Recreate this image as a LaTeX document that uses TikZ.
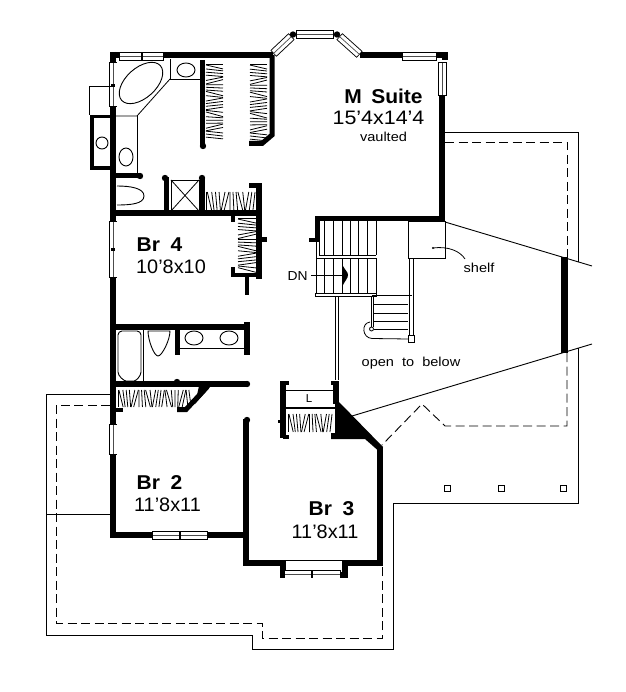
\documentclass[tikz,border=0pt]{standalone}
\usepackage{fontspec}
\setmainfont{Liberation Sans}
\tikzset{
  wall/.style={line width=6pt,line cap=butt,line join=miter},
  swall/.style={line width=3.6pt,line cap=butt,line join=miter},
  thin/.style={line width=0.8pt},
  roofline/.style={line width=0.9pt,line join=miter},
  eave/.style={line width=0.9pt,dash pattern=on 9pt off 4.5pt},
  fixture/.style={line width=0.9pt},
  hatchline/.style={line width=0.8pt},
  bigname/.style={font=\fontsize{20}{20}\selectfont\bfseries,inner sep=0pt,transform shape,xscale=1.05},
  dims/.style={font=\fontsize{19.5}{20}\selectfont,inner sep=0pt,transform shape,xscale=1.1},
  dimsn/.style={font=\fontsize{19.5}{20}\selectfont,inner sep=0pt,transform shape,xscale=1.02},
  small/.style={font=\fontsize{13}{14}\selectfont,inner sep=0pt,transform shape,xscale=1.12},
}
\newcommand{\winline}[2]{%
  \draw[line width=8.8pt,shorten >=-0.8pt,shorten <=-0.8pt] #1 -- #2;
  \draw[white,line width=7pt] #1 -- #2;
  \draw[line width=0.7pt,black!70] #1 -- #2;}
\newcommand{\knob}[2]{\fill (#1,#2) circle (3.2pt);}
\newcommand{\hatchV}[5]{% x1 x2 y1 y2 n : rods across, closet runs vertically
  \foreach \i in {0,...,#5}{
    \pgfmathsetmacro{\yy}{#3+\i*(#4-#3)/#5}
    \pgfmathsetmacro{\dd}{1.6*sin(\i*47)+0.9*sin(\i*113)}
    \draw[hatchline] (#1,\yy-\dd) -- (#2,\yy+\dd);
  }}
\newcommand{\hatchH}[5]{% x1 x2 y1 y2 n : rods across, closet runs horizontally
  \foreach \i in {0,...,#5}{
    \pgfmathsetmacro{\xx}{#1+\i*(#2-#1)/#5}
    \pgfmathsetmacro{\dd}{1.8*sin(\i*47)+0.9*sin(\i*113)}
    \draw[hatchline] (\xx-\dd,#3) -- (\xx+\dd,#4);
  }}
\begin{document}
\begin{tikzpicture}[x=1pt,y=-1pt]
\useasboundingbox (0,0) rectangle (625,692);
\fill[white] (0,0) rectangle (625,692);

% ---- roof outline
\draw[roofline] (445,132) -- (578,132) -- (578,262);
\draw[roofline] (578,348) -- (578,503) -- (393,503) -- (393,649) -- (252,649) -- (252,635) -- (46,635) -- (46,394) -- (110,394);
\draw[roofline] (46,514) -- (110,514);
\draw[roofline] (445,222) -- (592,266);
\draw[roofline] (592,344) -- (352,416);
% ---- eave dashes
\draw[eave] (445,142) -- (567,142) -- (567,257);
\draw[eave] (567,353) -- (567,426) -- (445,426) -- (422,404) -- (382,445);
\draw[eave] (110,405) -- (56,405) -- (56,623) -- (262,623) -- (262,638) -- (382,638) -- (382,565);
\fill (561,257) rectangle (568,353);
% ---- posts
\foreach \px in {447,501,563}{\draw[line width=1pt] (\px-3,485) rectangle (\px+3,491);}

% ---- exterior walls
\draw[wall] (110,55) -- (273,55);
\draw[wall] (360,55) -- (445,55) -- (445,60);
\draw[wall] (442,95) -- (442,222);
\draw[wall,line width=5pt] (315,219) -- (444,219);
\draw[wall] (113,52) -- (113,538);
\draw[wall] (110,535) -- (246,535);
\draw[wall] (246,419) -- (246,566);
\draw[wall] (243,563) -- (283,563) -- (283,574.5) -- (345,574.5) -- (345,563) -- (383,563);
\draw[wall] (380,566) -- (380,447);
\draw[thin] (283,560) -- (345,560);
\fill (335,402) -- (339,402) -- (383,447) -- (377.5,450) -- (365,439) -- (331,439) -- (331,433) -- (335,433) -- cycle;
\knob{247}{420}

% ---- windows
\winline{(120,56.5)}{(163,56.5)}
\fill (141,52) rectangle (143,61);
\winline{(113,63)}{(113,106)}
\fill (111,84) rectangle (115,87);
\winline{(274,53)}{(291,37)}
\winline{(297,34.5)}{(333,34.5)}
\winline{(340,37)}{(359,54)}
\knob{293}{34.5}
\knob{337}{34.5}
\winline{(403,56.5)}{(436,56.5)}
\winline{(442.5,63)}{(442.5,95)}
\winline{(113,222)}{(113,277)}
\fill (111,248) rectangle (115,251);
\winline{(113,425)}{(113,454)}
\winline{(153,535.5)}{(207,535.5)}
\fill (179,532) rectangle (181,539);
\winline{(285,574)}{(340,574)}
\fill (311,570) rectangle (313,578);

% ---- master bath
\draw[thin] (170,59) -- (170,79) -- (200,79);
\draw[thin] (170,79) -- (137,116) -- (116,116);
\draw[thin] (137,116) -- (137,175);
\draw[fixture] (186,70) ellipse [x radius=9pt,y radius=7pt];
\draw[fixture,rotate around={42:(141,83)}] (141,83) ellipse [x radius=26pt,y radius=15pt];
\draw[thin] (113,86) -- (89,86) -- (89,115);
\draw[swall] (113,116.5) -- (92,116.5) -- (92,168) -- (113,168);
\draw[fixture] (102,143) circle (6pt);
\draw[fixture] (126,157) ellipse [x radius=7pt,y radius=9pt];
\draw[wall,line width=5pt] (113,176) -- (140,176);
\knob{140}{176}
\draw[fixture] (117,186) .. controls (130,186) and (144,188) .. (144,196) .. controls (144,204) and (130,205) .. (117,205);
% shower
\draw[wall,line width=5pt] (166,177) -- (166,213);
\knob{165}{178}
\draw[wall,line width=5pt] (202,179) -- (202,213);
\knob{202}{178}
\draw[thin] (171,180) rectangle (199,211);
\draw[thin] (171,180) -- (199,211);
\draw[thin] (199,180) -- (171,211);
\hatchH{206}{254}{192}{210}{14}
\draw[wall,line width=5pt] (249,186) -- (262,186);
\draw[wall] (259,186) -- (259,279);
\fill (259,237.5) rectangle (267,242.5);

% ---- walk-in closet
\draw[wall,line width=5pt] (202,60) -- (202,146);
\knob{203}{146}
\hatchV{206}{223}{64}{138}{25}
\hatchV{250}{267}{64}{140}{25}
\draw[wall,line width=5pt] (272,55) -- (272,135) -- (262,143.5) -- (249,143.5);

% ---- Br 4 walls
\draw[wall] (113,213) -- (259,213);
\hatchV{238}{256}{218}{270}{17}
\draw[wall,line width=4.5pt] (233,213) -- (233,222);
\draw[wall,line width=4.5pt] (233,267) -- (233,275) -- (259,275);
\draw[wall,line width=4.5pt] (247,275) -- (247,295);

% ---- second bath
\draw[wall] (113,327) -- (247,327);
\draw[wall] (246.5,322) -- (246.5,355);
\draw[wall,line width=5pt] (177,327) -- (177,355);
\draw[thin] (177,348) -- (246,348);
\draw[fixture] (194,338) ellipse [x radius=9pt,y radius=7pt];
\draw[fixture] (229,338) ellipse [x radius=9pt,y radius=7pt];
\draw[fixture] (148,331) .. controls (148,340) and (154,356) .. (158,356) .. controls (162,356) and (170,340) .. (170,331) -- cycle;
\draw[fixture,rounded corners=4pt] (118,331) -- (118,368) .. controls (118,376) and (124,381) .. (130,381) .. controls (136,381) and (141,376) .. (141,368) -- (141,331) -- cycle;
\draw[thin] (143,327) -- (143,383);
\draw[wall] (113,384) -- (247,384);
\knob{247}{384}
\knob{177}{382}

% ---- linen / closet between bath and Br 2
\hatchH{118}{190}{390}{407}{24}
\draw[wall,line width=4.5pt] (113,410) -- (123,410);
\draw[wall,line width=5pt] (207,387) -- (186,409.5) -- (177,409.5);
\fill (199,386) -- (211,386) -- (195,404) -- cycle;

% ---- closet Br 3
\draw[wall] (283,381) -- (283,438);
\draw[wall,line width=4.5pt] (283,383) -- (289,383);
\draw[wall,line width=4.5pt] (283,437) -- (289,437);
\fill (278,419.5) rectangle (283,422.5);
\draw[wall] (336,381) -- (336,404);
\draw[wall,line width=4.5pt] (331,383) -- (336,383);
\draw[line width=1pt] (285,390) -- (334,390);
\draw[line width=2.4pt] (285,408) -- (335,408);
\hatchH{288}{331}{414}{432}{14}

% ---- stairs
\draw[wall,line width=5pt] (317,217) -- (317,242);
\draw[wall,line width=4.5pt] (309,240) -- (317,240);
\draw[thin] (316,242) -- (316,294);
\draw[thin] (319,242) -- (319,255);
\draw[thin] (319,255) -- (376,255);
\draw[thin] (316,258) -- (376,258);
\foreach \tx in {324,333,342,350,358,367,376}{
  \draw[thin] (\tx,221) -- (\tx,255);
  \draw[thin] (\tx,258) -- (\tx,293);
}
\draw[thin] (315,293) rectangle (376,296);
\draw[thin] (335.5,296) -- (335.5,380);
\draw[thin] (338,296) -- (338,380);
\draw[thin] (408,221) rectangle (445,258);
\draw[thin] (409,258) -- (409,335);
\draw[thin] (413,258) -- (413,335);
\draw[thin] (371,296) -- (371,327);
\draw[thin] (373.5,296) -- (373.5,327);
\draw[thin] (372,295.5) -- (412,295.5);
\foreach \ty in {304,313,321,329}{\draw[thin] (374,\ty) -- (408,\ty);}
\draw[line width=1pt] (408,335) rectangle (414,342);
\draw[thin] (371.5,329) circle (2pt);
\draw[thin] (370,322) .. controls (361,323) and (362,338) .. (372,338.5) -- (408,339);
% DN arrow
\coordinate (dnstart) at (311,275);
\coordinate (dntip) at (348,275);
\draw[thin] (dnstart) -- (dntip);
\fill (343,266) .. controls (345,270) and (348,272) .. (348,275) .. controls (348,278) and (345,281) .. (343,285) -- cycle;

% ---- shelf leader
\coordinate (shelfa) at (433,248);
\coordinate (shelfb) at (465,259);
\draw[thin] (shelfa) .. controls (448,246) and (460,251) .. (shelfb);
\fill (shelfa) circle (1.2pt);

% ---- labels
\node[bigname] (msuite) at (383.5,96) {M\hspace{0.45em}Suite};
\node[dims] (msize) at (378.5,118) {15'4x14'4};
\node[small] (mv) at (383.5,137) {vaulted};
\node[bigname] (br4) at (159.5,245) {Br\hspace{0.5em}4};
\node[dimsn] (br4s) at (171,267) {10'8x10};
\node[bigname] (br2) at (159.5,483) {Br\hspace{0.5em}2};
\node[dimsn] (br2s) at (167.5,505) {11'8x11};
\node[bigname] (br3) at (331.5,509) {Br\hspace{0.5em}3};
\node[dimsn] (br3s) at (325,532) {11'8x11};
\node[small] (otb) at (411,363) {open\hspace{0.55em}to\hspace{0.55em}below};
\node[small] (shelf) at (479,268) {shelf};
\node[small,xscale=0.95] (dn) at (297.5,276) {DN};
\node[font=\fontsize{11.5}{12}\selectfont,inner sep=0pt] (ll) at (309,399) {L};
\end{tikzpicture}
\end{document}
